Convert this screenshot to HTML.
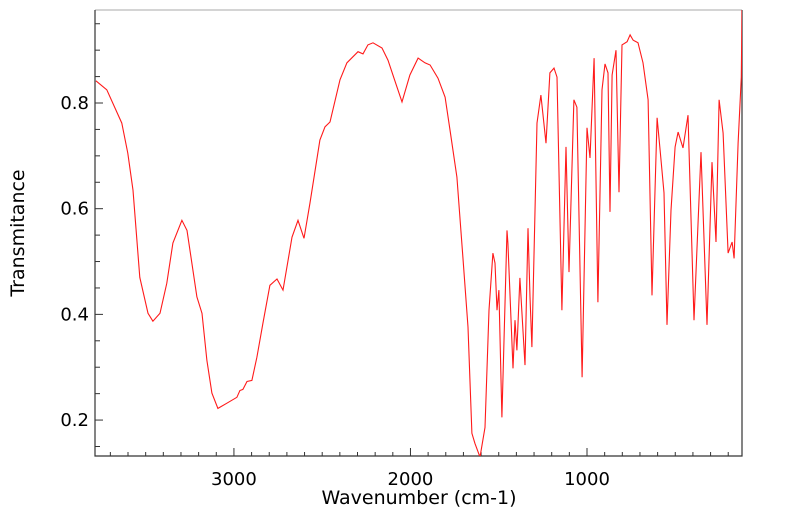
<!DOCTYPE html>
<html><head><meta charset="utf-8"><style>
html,body{margin:0;padding:0;background:#fff;}
svg text{font-family:"DejaVu Sans","Liberation Sans",sans-serif;fill:#000;}
</style></head><body>
<svg id="chart" width="799" height="516" viewBox="0 0 799 516" xmlns="http://www.w3.org/2000/svg">
<defs><clipPath id="clip"><rect x="95" y="10" width="647" height="446"/></clipPath></defs>
<g id="axes"></g>
<path id="spectrum" fill="none" stroke="#ff1a1a" stroke-width="1.1" clip-path="url(#clip)"/>
<text x="419" y="504" text-anchor="middle" font-size="19">Wavenumber (cm-1)</text>
<text transform="translate(24,233) rotate(-90)" text-anchor="middle" font-size="19">Transmitance</text>
</svg>
<script>
const wavenumbers=[3782,3720,3635,3601,3572,3533,3487,3459,3419,3380,3346,3295,3266,3210,3181,3153,3125,3091,3040,2983,2966,2949,2926,2898,2870,2836,2796,2756,2722,2671,2637,2603,2569,2513,2484,2456,2399,2360,2297,2269,2241,2212,2161,2127,2093,2048,2003,1957,1918,1889,1844,1804,1776,1737,1703,1674,1652,1635,1606,1578,1555,1533,1521,1510,1499,1482,1453,1448,1419,1408,1397,1380,1351,1334,1323,1312,1283,1261,1232,1210,1187,1170,1142,1119,1102,1074,1057,1028,1000,983,960,938,915,898,881,870,858,836,819,802,773,756,739,711,683,654,632,603,586,564,547,524,501,484,456,428,394,354,320,292,269,252,229,201,178,167,144,126,122];
const transmittance=[0.842,0.825,0.762,0.705,0.635,0.470,0.402,0.387,0.402,0.459,0.535,0.578,0.559,0.433,0.402,0.313,0.251,0.222,0.232,0.243,0.256,0.258,0.273,0.275,0.319,0.383,0.455,0.467,0.446,0.546,0.578,0.544,0.611,0.730,0.755,0.764,0.844,0.876,0.897,0.893,0.910,0.914,0.904,0.881,0.847,0.802,0.853,0.885,0.876,0.872,0.847,0.811,0.749,0.660,0.508,0.376,0.175,0.156,0.130,0.186,0.408,0.516,0.497,0.408,0.446,0.205,0.559,0.535,0.298,0.389,0.332,0.469,0.304,0.563,0.433,0.338,0.762,0.815,0.724,0.857,0.866,0.849,0.408,0.717,0.480,0.806,0.792,0.281,0.753,0.696,0.885,0.423,0.825,0.874,0.857,0.594,0.853,0.900,0.631,0.910,0.916,0.929,0.919,0.914,0.876,0.806,0.436,0.772,0.711,0.630,0.380,0.597,0.717,0.745,0.715,0.777,0.389,0.707,0.380,0.688,0.537,0.806,0.743,0.516,0.537,0.506,0.724,0.849,0.976];
const xTickLabels=[3000,2000,1000];
const yTickLabels=[0.2,0.4,0.6,0.8];
const X0=95,X1=742,Y0=10,Y1=456;
const WN_L=3787,WN_R=122,T_B=0.132,T_T=0.976;
function xs(w){return X0+(WN_L-w)/(WN_L-WN_R)*(X1-X0);}
function ys(t){return Y1-(t-T_B)/(T_T-T_B)*(Y1-Y0);}
const NS='http://www.w3.org/2000/svg';
const axesG=document.getElementById('axes');
function mk(tag,attrs){const e=document.createElementNS(NS,tag);for(const k in attrs)e.setAttribute(k,attrs[k]);axesG.appendChild(e);return e;}
const topBorder=mk('line',{x1:X0,y1:Y0,x2:X1,y2:Y0,stroke:'#aaa','stroke-width':1});


const spines=mk('path',{d:`M${X0},${Y0}V${Y1}H${X1}V${Y0}`,fill:'none',stroke:'#333','stroke-width':1.2});


for(let w=3700;w>=200;w-=100){
  const major=w%1000===0;const x=xs(w);
  const t=mk('line',{x1:x,y1:Y1,x2:x,y2:Y1-(major?8:4),stroke:'#333','stroke-width':1});
  
  
}
xTickLabels.forEach(v=>{
  const t=mk('text',{x:xs(v),y:485,'text-anchor':'middle','font-size':18});
  t.textContent=v;
  
  
});
for(let i=3;i<=19;i++){
  const v=i*0.05;if(v<T_B||v>T_T)continue;
  const major=i%4===0;const y=ys(v);
  const t=mk('line',{x1:X0,y1:y,x2:X0+(major?8:5),y2:y,stroke:'#333','stroke-width':1});
  
  
}
yTickLabels.forEach(v=>{
  const t=mk('text',{x:89,y:ys(v)+6,'text-anchor':'end','font-size':18});
  t.textContent=v.toFixed(1);
  
  
});
let d='';
wavenumbers.forEach((w,i)=>{d+=(i?'L':'M')+xs(w).toFixed(1)+','+ys(transmittance[i]).toFixed(1);});
document.getElementById('spectrum').setAttribute('d',d);
</script>
</body></html>
